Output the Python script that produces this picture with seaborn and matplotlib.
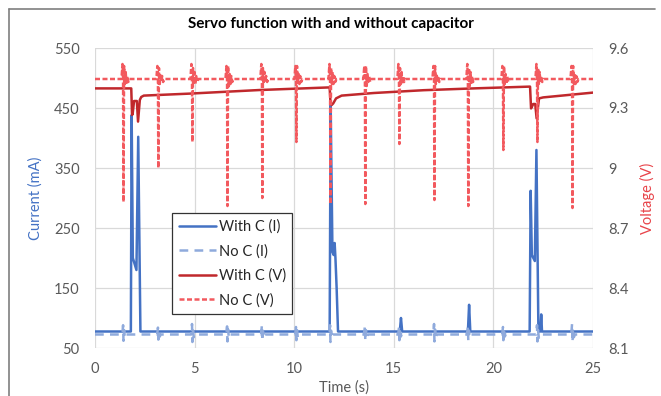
import numpy as np
import matplotlib
matplotlib.use("Agg")
import matplotlib.pyplot as plt
from matplotlib.lines import Line2D
import seaborn as sns

# Current with capacitor (mA)
t_ci = [0.0, 1.80, 1.84, 1.90, 2.08, 2.17, 2.28,
        11.78, 11.83, 11.92, 11.98, 12.03, 12.07, 12.13, 12.20,
        15.30, 15.36, 15.42, 18.72, 18.78, 18.84,
        21.82, 21.87, 21.93, 22.08, 22.16, 22.26, 22.36, 22.40, 22.44, 25.0]
i_c = [77.5, 77.5, 438, 200, 180, 402, 77.5,
       77.5, 455, 210, 205, 225, 200, 150, 77.5,
       77.5, 100, 77.5, 77.5, 122, 77.5,
       77.5, 312, 205, 195, 380, 77.5, 77.5, 106, 77.5, 77.5]

# Current without capacitor (mA)
t_ni = [0.0,
        1.37, 1.41, 1.43, 1.46, 1.50, 1.55,
        3.12, 3.16, 3.18, 3.21, 3.25, 3.30,
        4.83, 4.87, 4.89, 4.92, 4.96, 5.01,
        6.59, 6.63, 6.65, 6.68, 6.72, 6.77,
        8.34, 8.38, 8.40, 8.43, 8.47, 8.52,
        10.05, 10.09, 10.11, 10.14, 10.18, 10.23,
        11.76, 11.80, 11.82, 11.85, 11.89, 11.94,
        13.51, 13.55, 13.57, 13.60, 13.64, 13.69,
        15.22, 15.26, 15.28, 15.31, 15.35, 15.40,
        16.98, 17.02, 17.04, 17.07, 17.11, 17.16,
        18.68, 18.72, 18.74, 18.77, 18.81, 18.86,
        20.44, 20.48, 20.50, 20.53, 20.57, 20.62,
        22.15, 22.19, 22.21, 22.24, 22.28, 22.33,
        23.91, 23.95, 23.97, 24.00, 24.04, 24.09,
        25.0]
i_n = [72.5,
       72.5, 88, 62, 80, 67, 72.5,
       72.5, 84, 64, 78, 69, 72.5,
       72.5, 90, 60, 79, 68, 72.5,
       72.5, 86, 61, 81, 67, 72.5,
       72.5, 89, 62, 78, 68, 72.5,
       72.5, 85, 63, 80, 68, 72.5,
       72.5, 88, 60, 79, 67, 72.5,
       72.5, 87, 62, 80, 68, 72.5,
       72.5, 84, 63, 78, 69, 72.5,
       72.5, 90, 61, 81, 67, 72.5,
       72.5, 86, 62, 79, 68, 72.5,
       72.5, 85, 63, 78, 69, 72.5,
       72.5, 88, 61, 80, 67, 72.5,
       72.5, 91, 60, 81, 68, 72.5,
       72.5]

# Voltage with capacitor (V)
t_cv = [0.0, 1.82, 1.86, 1.89, 1.96, 2.10, 2.16, 2.25, 2.32, 2.45,
        4.77, 8.28, 11.78, 11.82, 11.88, 11.96, 12.10, 12.38,
        14.0, 16.5, 19.0, 21.84, 21.89, 22.00, 22.10, 22.17, 22.29, 22.50, 25.0]
v_c = [9.398, 9.398, 9.265, 9.27, 9.335, 9.335, 9.232, 9.34, 9.355, 9.362,
       9.372, 9.39, 9.403, 9.33, 9.315, 9.323, 9.348, 9.362,
       9.375, 9.389, 9.398, 9.407, 9.298, 9.32, 9.32, 9.248, 9.348, 9.353, 9.377]

# Voltage without capacitor (V)
t_nv = [0.0,
        1.33, 1.38, 1.41, 1.43, 1.46, 1.50, 1.54, 1.58, 1.62, 1.67, 1.73,
        3.08, 3.13, 3.16, 3.18, 3.21, 3.25, 3.29, 3.33, 3.37, 3.42, 3.48,
        4.79, 4.84, 4.87, 4.89, 4.92, 4.96, 5.00, 5.04, 5.08, 5.13, 5.19,
        6.55, 6.60, 6.63, 6.65, 6.68, 6.72, 6.76, 6.80, 6.84, 6.89, 6.95,
        8.30, 8.35, 8.38, 8.40, 8.43, 8.47, 8.51, 8.55, 8.59, 8.64, 8.70,
        10.01, 10.06, 10.09, 10.11, 10.14, 10.18, 10.22, 10.26, 10.30, 10.35, 10.41,
        11.72, 11.77, 11.80, 11.82, 11.85, 11.89, 11.93, 11.97, 12.01, 12.06, 12.12,
        13.47, 13.52, 13.55, 13.57, 13.60, 13.64, 13.68, 13.72, 13.76, 13.81, 13.87,
        15.18, 15.23, 15.26, 15.28, 15.31, 15.35, 15.39, 15.43, 15.47, 15.52, 15.58,
        16.94, 16.99, 17.02, 17.04, 17.07, 17.11, 17.15, 17.19, 17.23, 17.28, 17.34,
        18.64, 18.69, 18.72, 18.74, 18.77, 18.81, 18.85, 18.89, 18.93, 18.98, 19.04,
        20.40, 20.45, 20.48, 20.50, 20.53, 20.57, 20.61, 20.65, 20.69, 20.74, 20.80,
        22.11, 22.16, 22.19, 22.21, 22.24, 22.28, 22.32, 22.36, 22.40, 22.45, 22.51,
        23.87, 23.92, 23.95, 23.97, 24.00, 24.04, 24.08, 24.12, 24.16, 24.21, 24.27,
        25.0]
v_n = [9.445,
       9.445, 9.52, 9.44, 8.83, 9.51, 9.42, 9.48, 9.42, 9.46, 9.43, 9.445,
       9.445, 9.51, 9.44, 9.00, 9.50, 9.42, 9.47, 9.43, 9.46, 9.43, 9.445,
       9.445, 9.52, 9.44, 9.13, 9.50, 9.42, 9.48, 9.42, 9.46, 9.43, 9.445,
       9.445, 9.51, 9.44, 8.81, 9.51, 9.41, 9.47, 9.42, 9.46, 9.43, 9.445,
       9.445, 9.52, 9.44, 8.85, 9.50, 9.42, 9.48, 9.43, 9.46, 9.43, 9.445,
       9.445, 9.51, 9.44, 9.13, 9.51, 9.42, 9.47, 9.42, 9.46, 9.43, 9.445,
       9.445, 9.52, 9.44, 8.82, 9.50, 9.42, 9.48, 9.42, 9.46, 9.43, 9.445,
       9.445, 9.51, 9.44, 8.82, 9.51, 9.41, 9.47, 9.43, 9.46, 9.43, 9.445,
       9.445, 9.52, 9.44, 9.12, 9.50, 9.42, 9.48, 9.42, 9.46, 9.43, 9.445,
       9.445, 9.51, 9.44, 8.84, 9.51, 9.42, 9.47, 9.43, 9.46, 9.43, 9.445,
       9.445, 9.52, 9.44, 8.81, 9.50, 9.41, 9.48, 9.42, 9.46, 9.43, 9.445,
       9.445, 9.51, 9.44, 9.09, 9.51, 9.42, 9.47, 9.42, 9.46, 9.43, 9.445,
       9.445, 9.52, 9.44, 9.13, 9.50, 9.42, 9.48, 9.43, 9.46, 9.43, 9.445,
       9.445, 9.51, 9.44, 8.80, 9.51, 9.42, 9.47, 9.42, 9.46, 9.43, 9.445,
       9.445]

x_ticks = [0, 5, 10, 15, 20, 25]
i_ticks = [50, 150, 250, 350, 450, 550]
v_ticks = [8.1, 8.4, 8.7, 9.0, 9.3, 9.6]
v_labels = ["8.1", "8.4", "8.7", "9", "9.3", "9.6"]

sns.set_theme(style="white")
plt.rcParams["font.family"] = ["Lato", "DejaVu Sans"]

tick_col = "#595959"
blue = "#4472C4"
light_blue = "#8FAADC"
dark_red = "#C0282C"
light_red = "#F2595E"

fig = plt.figure(figsize=(6.61, 3.96), dpi=100)
ax1 = fig.add_axes([95 / 661, 1 - 348 / 396, 498 / 661, 300 / 396])
ax2 = ax1.twinx()

sns.lineplot(x=t_ci, y=i_c, ax=ax1, color=blue, lw=1.8, estimator=None,
             label="With C (I)", sort=False)
sns.lineplot(x=t_ni, y=i_n, ax=ax1, color=light_blue, lw=1.8, estimator=None,
             label="No C (I)", sort=False)
ax1.lines[-1].set_dashes((3.5, 2.5))

sns.lineplot(x=t_cv, y=v_c, ax=ax2, color=dark_red, lw=1.8, estimator=None,
             label="With C (V)", sort=False)
sns.lineplot(x=t_nv, y=v_n, ax=ax2, color=light_red, lw=1.8, estimator=None,
             label="No C (V)", sort=False)
ax2.lines[-1].set_dashes((2, 1))

for ax in (ax1, ax2):
    for s in ax.spines.values():
        s.set_visible(False)
    if ax.get_legend():
        ax.get_legend().remove()

ax1.set_xlim(0, 25)
ax1.set_ylim(50, 550)
ax1.set_xticks(x_ticks)
ax1.set_yticks(i_ticks)
ax1.grid(True, color="#D9D9D9", lw=0.9)
ax1.set_axisbelow(True)
ax2.set_ylim(8.1, 9.6)
ax2.set_yticks(v_ticks)
ax2.set_yticklabels(v_labels)
ax2.grid(False)

ax1.tick_params(axis="x", length=0, pad=10, labelsize=10.5, labelcolor=tick_col)
ax1.tick_params(axis="y", length=0, pad=11, labelsize=10.5, labelcolor=tick_col)
ax2.tick_params(axis="y", length=0, pad=11, labelsize=10.5, labelcolor=tick_col)

ax1.set_xlabel("Time (s)", fontsize=10.5, color=tick_col, labelpad=3)
ax1.set_ylabel("Current (mA)", fontsize=10.5, color=blue, labelpad=8)
ax2.set_ylabel("Voltage (V)", fontsize=10.5, color="#E8444A", labelpad=8)

fig.suptitle("Servo function with and without capacitor", y=1 - 24 / 396,
             fontsize=11, fontweight="bold", color="black", va="center")

h1, l1 = ax1.get_legend_handles_labels()
h2, l2 = ax2.get_legend_handles_labels()
leg = ax2.legend(h1 + h2, l1 + l2, loc="upper left",
                 bbox_to_anchor=(172 / 661, 1 - 213 / 396),
                 bbox_transform=fig.transFigure, fontsize=10.5,
                 handlelength=2.6, handletextpad=0.15, labelspacing=0.7,
                 borderpad=0.45, borderaxespad=0, fancybox=False, framealpha=1)
leg.get_frame().set_edgecolor("#333333")
leg.get_frame().set_linewidth(0.9)

# chart frame (left and top edges visible)
fig.add_artist(Line2D([9 / 661, 9 / 661], [0, 1 - 9 / 396],
                      transform=fig.transFigure, color="#7F7F7F", lw=1.2))
fig.add_artist(Line2D([9 / 661, 655 / 661], [1 - 9 / 396, 1 - 9 / 396],
                      transform=fig.transFigure, color="#7F7F7F", lw=1.2))

fig.savefig("out.png", dpi=100)
